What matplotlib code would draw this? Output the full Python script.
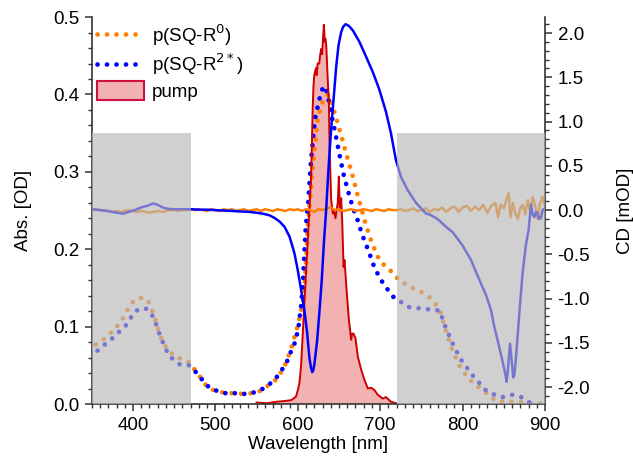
import matplotlib
matplotlib.use("Agg")
import matplotlib.pyplot as plt
from matplotlib.patches import Rectangle, Patch
from matplotlib.lines import Line2D
from matplotlib.ticker import MultipleLocator

plt.rcParams['font.family'] = ['Liberation Sans', 'DejaVu Sans']
plt.rcParams['axes.unicode_minus'] = False
plt.rcParams['font.size'] = 13.5

# absorbance p(SQ-R0)
wl_r0 = [355, 360, 367, 375, 382, 388, 393, 399, 407, 413, 418, 422, 426, 429, 432, 436, 442, 450, 459, 467,
         473, 480, 487, 494, 502, 512, 523, 534, 544, 555, 564, 573, 579, 584, 588, 592, 595, 598, 601, 603,
         606, 608, 610, 611.5, 613, 615, 617, 619, 622, 624, 628, 632, 637, 640, 642, 645, 648, 651, 654, 657,
         660, 666, 671.5, 677, 683, 690, 699, 707, 715, 722, 731, 741, 751, 761, 767, 772, 775, 781, 788, 797,
         805, 811, 818, 826, 833, 840, 850, 861, 871, 885, 900]
abs_r0 = [0.077, 0.080, 0.086, 0.094, 0.102, 0.111, 0.121, 0.131, 0.137, 0.137, 0.134, 0.124, 0.113, 0.102, 0.091, 0.080, 0.071, 0.062, 0.058, 0.055,
          0.047, 0.037, 0.026, 0.019, 0.017, 0.014, 0.014, 0.013, 0.014, 0.017, 0.024, 0.031, 0.040, 0.049, 0.060, 0.072, 0.083, 0.094, 0.106, 0.117,
          0.130, 0.150, 0.185, 0.215, 0.240, 0.265, 0.290, 0.315, 0.344, 0.366, 0.385, 0.395, 0.400, 0.394, 0.386, 0.375, 0.364, 0.353, 0.342, 0.330,
          0.319, 0.297, 0.274, 0.253, 0.230, 0.208, 0.186, 0.177, 0.170, 0.161, 0.155, 0.149, 0.144, 0.137, 0.129, 0.122, 0.112, 0.090, 0.068, 0.048,
          0.036, 0.029, 0.023, 0.017, 0.010, 0.004, 0.003, 0.003, 0.003, 0.001, 0.0]

# absorbance p(SQ-R2*)
wl_r2 = [357, 367, 375, 383, 391, 397, 403, 411, 416, 421, 426, 433, 442, 449, 457, 468, 473, 480, 487, 494,
         502, 512, 523, 534, 544, 555, 565, 573, 579, 584, 589, 592, 596, 599, 601, 604, 606, 608, 609.5, 611,
         612.6, 613.8, 615.8, 618.7, 621, 625.5, 629, 632, 635, 638, 641, 645, 651, 655.5, 661, 667, 671.6, 678,
         685.8, 693.4, 704, 717, 725, 735.5, 744, 755, 766, 772, 779, 788, 797.6, 810.6, 818, 828, 840.5, 849,
         860.7, 871, 881, 890]
abs_r2 = [0.069, 0.078, 0.085, 0.093, 0.101, 0.111, 0.120, 0.124, 0.123, 0.119, 0.109, 0.088, 0.066, 0.057, 0.051, 0.050, 0.045, 0.037, 0.027, 0.020,
          0.017, 0.014, 0.014, 0.013, 0.014, 0.018, 0.025, 0.033, 0.041, 0.050, 0.059, 0.069, 0.078, 0.090, 0.101, 0.127, 0.152, 0.197, 0.225, 0.245,
          0.260, 0.279, 0.312, 0.345, 0.369, 0.391, 0.405, 0.411, 0.404, 0.390, 0.372, 0.353, 0.320, 0.297, 0.275, 0.253, 0.241, 0.219,
          0.198, 0.175, 0.155, 0.137, 0.132, 0.125, 0.124, 0.123, 0.121, 0.121, 0.100, 0.078, 0.058, 0.039, 0.030, 0.018, 0.011, 0.009,
          0.012, 0.009, 0.002, 0.0]

# pump spectrum
wl_pump = [550, 562, 575, 585, 592, 596, 598, 600, 602, 604, 606, 608, 610, 612, 614, 616, 617, 618, 619, 620,
           622, 623, 624, 626, 627, 628.4, 629.5, 630.5, 631.6, 632.8, 633.5, 634.5, 635.5, 636.5, 637.7, 638.5, 640.5, 642.5, 644, 645.7,
           647, 648.5, 649.8, 651, 652.7, 654, 655.5, 656.7, 659.5, 662, 663.5, 664.8, 666, 667.6, 670, 672.9, 677, 681, 685, 689,
           693, 697, 703, 707, 713, 719]
abs_pump = [0.002, 0.001, 0.003, 0.004, 0.005, 0.008, 0.010, 0.018, 0.027, 0.05, 0.09, 0.13, 0.17, 0.21, 0.25, 0.29, 0.33, 0.38, 0.41, 0.425,
            0.434, 0.425, 0.44, 0.44, 0.45, 0.459, 0.452, 0.47, 0.490, 0.468, 0.472, 0.464, 0.44, 0.416, 0.391, 0.335, 0.264, 0.246, 0.25, 0.240,
            0.25, 0.26, 0.294, 0.25, 0.266, 0.233, 0.177, 0.186, 0.143, 0.109, 0.095, 0.083, 0.091, 0.091, 0.085, 0.061, 0.044, 0.031, 0.020, 0.021,
            0.018, 0.012, 0.007, 0.009, 0.003, 0.001]

# CD p(SQ-R0)
wl_cd0 = [350, 355, 360, 365, 370, 375, 380, 385, 390, 395, 400, 405, 410, 415, 420, 425, 430, 435, 440, 445,
          450, 455, 460, 465, 470, 475, 480, 485, 490, 495, 500, 505, 510, 515, 520, 525, 530, 535, 540, 545,
          550, 555, 560, 565, 570, 575, 580, 585, 590, 595, 600, 605, 610, 615, 620, 625, 630, 635, 640, 645,
          650, 655, 660, 665, 670, 675, 680, 685, 690, 695, 700, 705, 710, 715, 720, 725, 730, 735, 740, 745,
          750, 755, 760, 765, 770, 775, 780, 785, 790, 795, 800, 805, 810, 815, 820, 825, 830, 835, 840, 843,
          846, 850, 853, 856, 858, 861, 864, 867, 870, 873, 876, 879, 882, 885, 888, 891, 894, 897, 900]
cd_r0 = [0.0, 0.01, 0.0, -0.01, -0.01, -0.02, -0.01, -0.02, -0.01, 0.0, -0.01, -0.02, -0.01, -0.02, -0.03, -0.02, -0.01, -0.02, -0.01, 0.0,
         0.0, -0.01, 0.0, 0.0, 0.01, 0.0, 0.01, 0.0, -0.01, 0.01, 0.0, -0.01, 0.01, 0.0, 0.01, -0.01, 0.0, 0.01, -0.01, 0.0,
         0.01, -0.01, 0.01, 0.0, -0.01, 0.01, 0.0, -0.01, 0.01, 0.0, 0.01, -0.01, 0.01, 0.0, -0.02, 0.01, 0.0, 0.02, 0.03, 0.0,
         0.01, -0.01, 0.0, 0.01, -0.01, 0.0, 0.01, 0.0, -0.01, 0.01, 0.0, -0.01, 0.01, 0.0, 0.0, 0.01, -0.01, 0.0, 0.02, -0.01,
         0.0, 0.02, -0.02, 0.01, 0.0, 0.03, -0.02, 0.02, 0.04, -0.02, 0.03, 0.05, -0.01, 0.04, 0.0, 0.06, -0.03, 0.05, 0.08, -0.08,
         0.06, 0.02, 0.12, 0.19, -0.08, 0.08, -0.04, -0.10, 0.02, 0.06, -0.05, 0.11, -0.02, 0.15, 0.05, -0.10, 0.08, 0.15, 0.05]

# CD p(SQ-R2*)
wl_cd2 = [350, 360, 370, 380, 388, 395, 402, 410, 418, 424, 430, 436, 442, 450, 462, 471, 480, 490, 500, 510,
          521, 530, 541, 550, 557.6, 566, 572, 578, 584, 590, 596, 600, 604, 608, 611.4, 614, 616, 617.5, 619, 620.3,
          623.5, 626.4, 629, 632, 634.4, 636.5, 638.5, 641, 644, 646.6, 649.4, 652.6, 655, 658, 662, 666.8, 674.8, 683, 691, 699,
          707, 713, 719, 725, 733, 743.6, 755.7, 760, 767.8, 772, 780, 788, 792, 800, 810, 820, 828.4, 834.5, 838.5, 842.5,
          847.8, 851.8, 853.4, 855, 857.5, 860, 861.5, 863, 864.8, 868.8, 872.8, 877, 880, 883, 885, 887, 889, 891, 893, 895,
          897, 900]
cd_r2 = [0.01, 0.0, -0.01, -0.03, -0.04, -0.02, 0.0, 0.03, 0.05, 0.075, 0.06, 0.03, 0.015, 0.01, 0.01, 0.01, 0.005, 0.005, 0.0, -0.005,
         -0.01, -0.015, -0.02, -0.03, -0.04, -0.06, -0.09, -0.13, -0.19, -0.30, -0.49, -0.68, -0.90, -1.13, -1.39, -1.66, -1.78, -1.83, -1.80, -1.73,
         -1.47, -1.13, -0.80, -0.32, 0.0, 0.35, 0.65, 0.98, 1.32, 1.62, 1.86, 2.01, 2.07, 2.10, 2.08, 2.03, 1.90, 1.73, 1.56, 1.36,
         1.11, 0.87, 0.57, 0.38, 0.23, 0.08, -0.04, -0.05, -0.09, -0.12, -0.19, -0.25, -0.30, -0.40, -0.56, -0.78, -0.96, -1.13, -1.32, -1.47,
         -1.68, -1.85, -1.94, -1.80, -1.51, -1.74, -1.89, -1.85, -1.66, -1.17, -0.71, -0.38, -0.23, 0.06, -0.05, -0.08, -0.02, -0.04, -0.10, -0.09,
         0.0, 0.02]

orange = '#ff7f00'
blue = '#0000ff'
red = '#cc0000'
dots = (0, (0.01, 2.0))

fig = plt.figure(figsize=(6.33, 4.62), dpi=100)
ax = fig.add_axes([0.145, 0.1255, 0.716, 0.8375])
ax2 = ax.twinx()

ax.plot(wl_r0, abs_r0, color=orange, lw=3.4, linestyle=dots, dash_capstyle='round')
ax.plot(wl_r2, abs_r2, color=blue, lw=3.4, linestyle=dots, dash_capstyle='round')
ax.fill_between(wl_pump, abs_pump, 0, facecolor=(0.85, 0, 0, 0.3), edgecolor='none')
ax.plot(wl_pump, abs_pump, color=red, lw=1.4)

ax2.plot(wl_cd0, cd_r0, color=orange, lw=1.8)
ax2.plot(wl_cd2, cd_r2, color=blue, lw=1.8)

# grey boxes over the spectral regions outside the probe window
for x0, x1 in [(350, 470), (720, 900)]:
    ax2.add_patch(Rectangle((x0, 0), x1 - x0, 0.35, transform=ax.transData,
                            facecolor='#b8b8b8', alpha=0.65, edgecolor='none', zorder=5))

ax.set_xlim(350, 900)
ax.set_ylim(0, 0.5)
ax2.set_ylim(-2.19, 2.18)

ax.xaxis.set_major_locator(MultipleLocator(100))
ax.xaxis.set_minor_locator(MultipleLocator(10))
ax.yaxis.set_major_locator(MultipleLocator(0.1))
ax.yaxis.set_minor_locator(MultipleLocator(0.02))
ax2.yaxis.set_major_locator(MultipleLocator(0.5))
ax2.yaxis.set_minor_locator(MultipleLocator(0.1))
ax.yaxis.set_major_formatter('{x:.1f}')
ax2.yaxis.set_major_formatter('{x:.1f}')

spc = '#333333'
for a in (ax, ax2):
    a.spines['top'].set_visible(False)
    for s in a.spines.values():
        s.set_color(spc)
        s.set_linewidth(1.2)
    a.tick_params(which='major', direction='out', length=5, width=1.1, color=spc, pad=4)
    a.tick_params(which='minor', direction='out', length=3, width=1.0, color=spc)
ax.spines['right'].set_visible(False)
ax2.spines['left'].set_visible(False)
ax2.spines['bottom'].set_visible(False)

ax.set_xlabel('Wavelength [nm]', labelpad=2)
ax.set_ylabel('Abs. [OD]', labelpad=15)
ax2.set_ylabel('CD [mOD]', rotation=90, labelpad=19)

handles = [
    Line2D([], [], color=orange, lw=3.4, linestyle=dots, dash_capstyle='round'),
    Line2D([], [], color=blue, lw=3.4, linestyle=dots, dash_capstyle='round'),
    Patch(facecolor=(0.85, 0, 0, 0.3), edgecolor='#d01040', lw=1.5),
]
labels = ['p(SQ-R$^0$)', 'p(SQ-R$^{2*}$)', 'pump']
leg = ax2.legend(handles, labels, loc='upper left', bbox_to_anchor=(0.0, 1.0), frameon=False,
                 handlelength=2.5, handleheight=1.2, handletextpad=0.4, labelspacing=0.2,
                 borderaxespad=0.1, borderpad=0.2, fontsize=13.5)
leg.set_zorder(10)

fig.savefig('out.png', dpi=100)
